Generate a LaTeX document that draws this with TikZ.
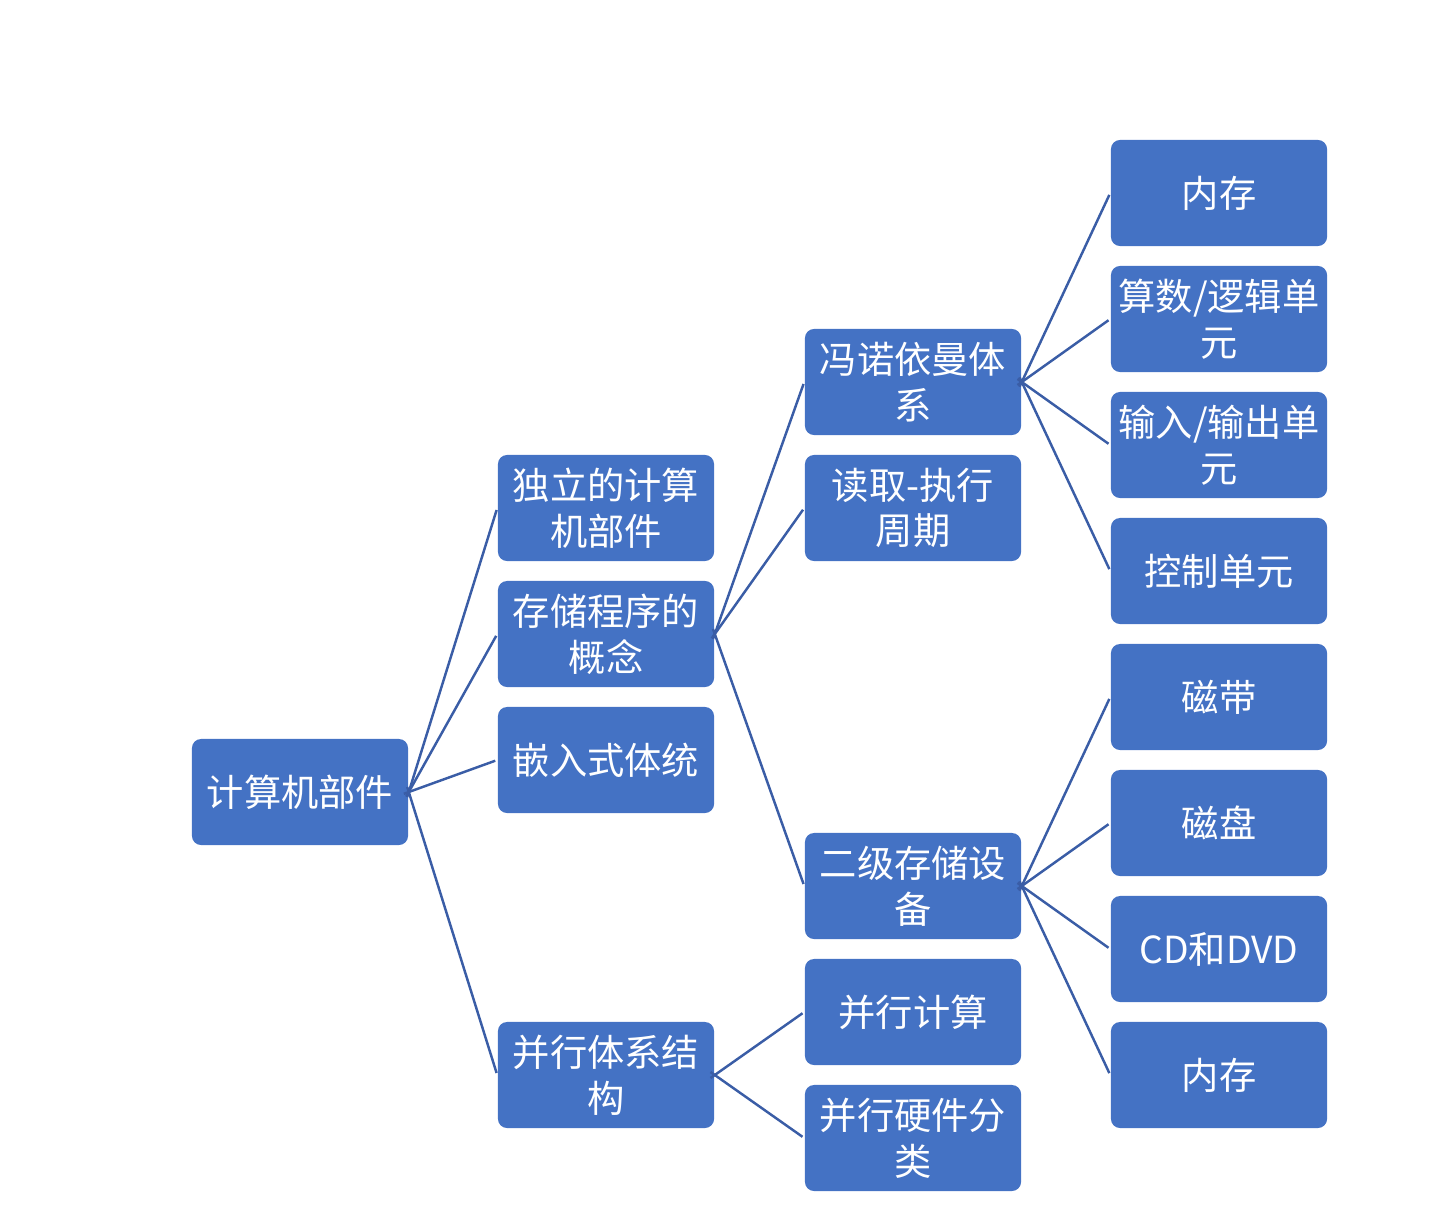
\documentclass[tikz,border=0pt]{standalone}
\usepackage{fontspec}
\setmainfont{Noto Sans CJK SC}
\usepackage{xcolor}
\usetikzlibrary{positioning, arrows.meta}

\definecolor{boxblue}{HTML}{4472C4}
\definecolor{lineblue}{HTML}{3A5DA6}

\begin{document}
\begin{tikzpicture}[x=0.01cm, y=-0.01cm,
    box/.style={fill=boxblue, rounded corners=2.6pt, text=white, align=center,
        minimum width=2.16cm, minimum height=1.06cm, inner sep=0pt,
        font=\fontsize{10.6}{13}\selectfont},
    link/.style={draw=lineblue, line width=0.7pt}]
    % page frame
    \useasboundingbox (0,0) rectangle (1440,1230);

    % root
    \node[box] (root) at (300,792) {计算机部件};

    % second column
    \node[box] (indep) at (606,508) {独立的计算\\机部件};
    \node[box] (stored) at (606,634) {存储程序的\\概念};
    \node[box] (embed) at (606,760) {嵌入式体统};
    \node[box] (para) at (606,1075) {并行体系结\\构};

    % third column
    \node[box] (vonn) at (913,382) {冯诺依曼体\\系};
    \node[box] (fetch) at (913,508) {读取-执行\\周期};
    \node[box] (second) at (913,886) {二级存储设\\备};
    \node[box] (pcomp) at (913,1012) {并行计算};
    \node[box] (phw) at (913,1138) {并行硬件分\\类};

    % fourth column
    \node[box] (mem) at (1219,193) {内存};
    \node[box] (alu) at (1219,319) {算数/逻辑单\\元};
    \node[box] (io) at (1219,445) {输入/输出单\\元};
    \node[box] (ctrl) at (1219,571) {控制单元};
    \node[box] (tape) at (1219,697) {磁带};
    \node[box] (disk) at (1219,823) {磁盘};
    \node[box] (cd) at (1219,949) {CD和DVD};
    \node[box] (memb) at (1219,1075) {内存};

    % links
    \foreach \a/\b in {root/indep, root/stored, root/embed, root/para,
        stored/vonn, stored/fetch, stored/second, para/pcomp, para/phw,
        vonn/mem, vonn/alu, vonn/io, vonn/ctrl,
        second/tape, second/disk, second/cd, second/memb}
        \draw[link, shorten <=-1.5pt, shorten >=0.6pt] (\a.east) -- (\b.west);
\end{tikzpicture}
\end{document}
